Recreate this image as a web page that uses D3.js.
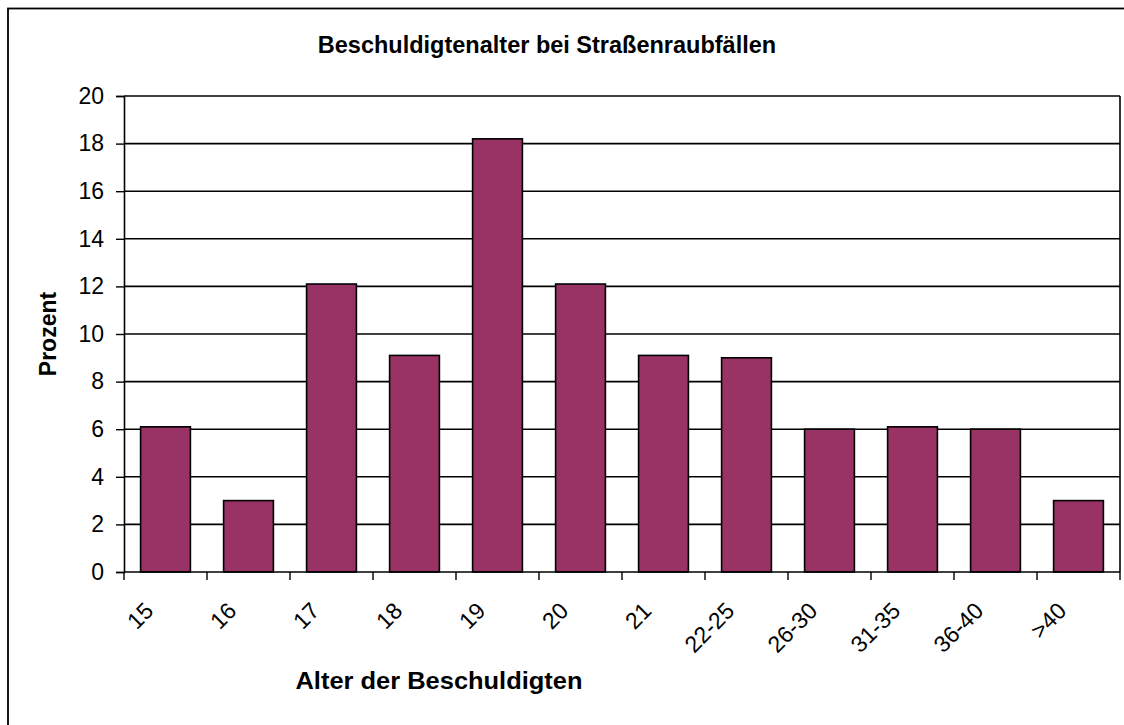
<!DOCTYPE html>
<html><head><meta charset="utf-8">
<script src="https://cdn.jsdelivr.net/npm/d3@7"></script>
<style>body{margin:0;background:#fff}svg{display:block;font-family:"Liberation Sans",Arial,sans-serif}</style>
</head><body>
<svg id="c" width="1124" height="725"></svg>
<script>
const categories = ["15","16","17","18","19","20","21","22-25","26-30","31-35","36-40",">40"];
const values = [6.1, 3.0, 12.1, 9.1, 18.2, 12.1, 9.1, 9.0, 6.0, 6.1, 6.0, 3.0];
const yTicks = [0,2,4,6,8,10,12,14,16,18,20];
const title = "Beschuldigtenalter bei Straßenraubfällen";
const xTitle = "Alter der Beschuldigten";
const yTitle = "Prozent";

const svg = d3.select("#c");
const L = 124, R = 1120, T = 96, B = 572;
svg.append("rect").attr("x",8).attr("y",8.5).attr("width",1140).attr("height",740)
  .attr("fill","#fff").attr("stroke","#000").attr("stroke-width",1.8);

const x = d3.scaleBand().domain(categories).range([L,R]).paddingInner(0.4).paddingOuter(0.2);
const y = d3.scaleLinear().domain([0,20]).range([B,T]);

// gridlines
svg.append("g").selectAll("line").data(yTicks.filter(d=>d>0)).join("line")
  .attr("x1",L).attr("x2",R).attr("y1",d=>y(d)).attr("y2",d=>y(d))
  .attr("stroke","#000").attr("stroke-width",1.6);
// right border of plot
svg.append("line").attr("x1",R).attr("x2",R).attr("y1",T).attr("y2",B).attr("stroke","#000").attr("stroke-width",1.6);

// bars
svg.append("g").selectAll("rect").data(values).join("rect")
  .attr("x",(d,i)=>x(categories[i])).attr("width",x.bandwidth())
  .attr("y",d=>y(d)).attr("height",d=>B-y(d))
  .attr("fill","#993366").attr("stroke","#000").attr("stroke-width",1.6);

// y axis
const yAxis = d3.axisLeft(y).tickValues(yTicks).tickSize(8).tickPadding(12);
const gy = svg.append("g").attr("transform",`translate(${L},0)`).call(yAxis);
gy.select(".domain").attr("stroke","#000").attr("stroke-width",1.6);
gy.selectAll(".tick line").attr("stroke","#000").attr("stroke-width",1.4);
gy.selectAll(".tick text").attr("font-size",23).attr("fill","#000").attr("font-family","Liberation Sans, Arial, sans-serif");

// x axis
const gx = svg.append("g").attr("transform",`translate(0,${B})`);
gx.append("line").attr("x1",L).attr("x2",R).attr("stroke","#000").attr("stroke-width",1.6);
const step = x.step();
const bounds = d3.range(categories.length+1).map(i=>L + i*(R-L)/categories.length);
gx.selectAll("line.t").data(bounds).join("line").attr("class","t")
  .attr("x1",d=>d).attr("x2",d=>d).attr("y1",0).attr("y2",8).attr("stroke","#000").attr("stroke-width",1.4);
gx.selectAll("text").data(categories).join("text")
  .attr("transform",d=>`translate(${x(d)+x.bandwidth()/2-15},36) rotate(-45)`)
  .attr("text-anchor","end").attr("dominant-baseline","middle")
  .attr("font-size",23).attr("fill","#000").text(d=>d);

// titles
svg.append("text").attr("x",547).attr("y",53).attr("text-anchor","middle")
  .attr("font-size",23.5).attr("font-weight","bold").text(title);
svg.append("text").attr("x",439).attr("y",689).attr("text-anchor","middle")
  .attr("font-size",23).attr("font-weight","bold").attr("textLength",287).attr("lengthAdjust","spacingAndGlyphs").text(xTitle);
svg.append("text").attr("transform","translate(56,334) rotate(-90)").attr("text-anchor","middle")
  .attr("font-size",23).attr("font-weight","bold").text(yTitle);
</script>
</body></html>
